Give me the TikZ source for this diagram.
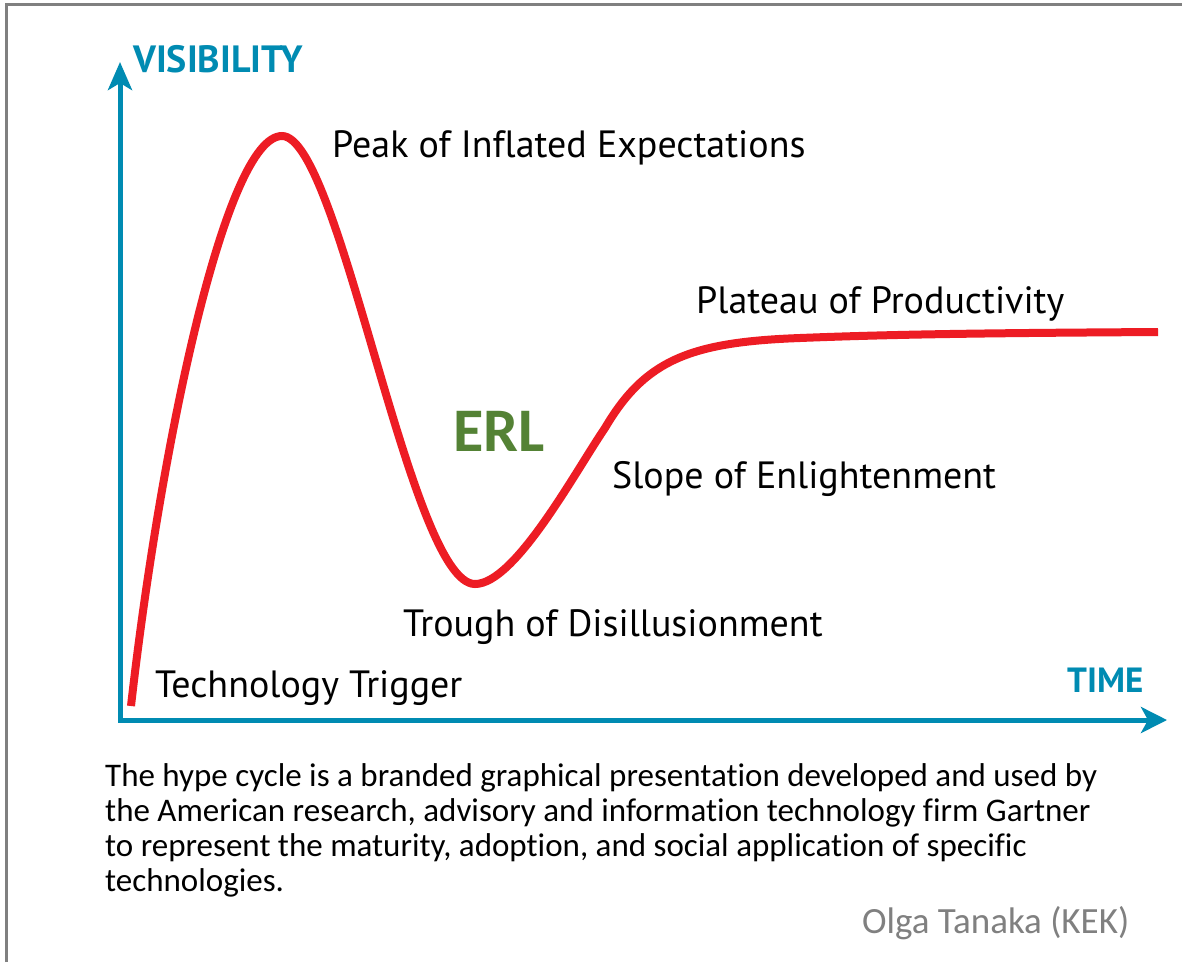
\documentclass[tikz,border=0pt]{standalone}
\usepackage{fontspec}
\setmainfont{Carlito}[Ligatures=NoCommon]
\newfontfamily\lblfont{PT Sans}[Ligatures=NoCommon]
\usetikzlibrary{arrows.meta}
\definecolor{axisteal}{RGB}{0,139,178}
\definecolor{hypered}{RGB}{237,28,36}
\definecolor{erlgreen}{RGB}{84,130,53}
\definecolor{framegrey}{RGB}{128,128,128}
\tikzset{
  curvelabel/.style={anchor=base west, inner sep=0pt, font=\lblfont\fontsize{38}{42}\selectfont, text=black},
  axislabel/.style={anchor=base west, inner sep=0pt, text=axisteal},
  captionline/.style={anchor=base west, inner sep=0pt, font=\fontsize{33}{35}\selectfont, text=black},
  axisline/.style={draw=axisteal, line width=5pt, line join=miter},
  hypecurve/.style={draw=hypered, line width=8pt},
}
\begin{document}
\begin{tikzpicture}[x=1pt,y=-1pt]
\useasboundingbox (0,0) rectangle (1182,962);
\fill[white] (0,0) rectangle (1182,962);
% frame (left and top edges)
\draw[framegrey, line width=3pt] (6.5,962) -- (6.5,4.5) -- (1182,4.5);
% axes
\coordinate (origin) at (120,720);
\coordinate (ytip) at (120,62);
\coordinate (xtip) at (1167,720);
\draw[axisline, {Stealth[length=28pt,width=24pt,inset=7pt]}-{Stealth[length=26pt,width=26pt,inset=7pt]}] (ytip) -- (origin) -- (xtip);
\node[axislabel, font=\lblfont\bfseries\fontsize{38}{42}\selectfont] (vis) at (133,72) {VISIBILITY};
\node[axislabel, font=\lblfont\bfseries\fontsize{35}{40}\selectfont] (time) at (1067,692) {TIME};
% hype curve
\draw[hypecurve] (131,706) .. controls (160,450) and (225,136) .. (282,136)
  .. controls (340,136) and (410,584) .. (475,584)
  .. controls (515,584) and (575,472) .. (605,428)
  .. controls (645,360) and (690,342) .. (800,338)
  .. controls (900,334) and (1000,333) .. (1158,332);
% labels
\node[curvelabel] (peak) at (332,157) {Peak of Inflated Expectations};
\node[curvelabel] (plateau) at (696,313) {Plateau of Productivity};
\node[curvelabel] (slope) at (612,488) {Slope of Enlightenment};
\node[curvelabel] (trough) at (403,636) {Trough of Disillusionment};
\node[curvelabel] (trigger) at (155,697) {Technology Trigger};
\node[anchor=base west, inner sep=0pt, font=\bfseries\fontsize{62}{70}\selectfont, text=erlgreen] (erl) at (453,451) {ERL};
% caption
\begin{scope}
\clip (0,0) rectangle (1182,896);
\node[captionline] (cap1) at (105,786) {The hype cycle is a branded graphical presentation developed and used by};
\node[captionline] (cap2) at (105,821) {the American research, advisory and information technology firm Gartner};
\node[captionline] (cap3) at (105,856) {to represent the maturity, adoption, and social application of specific};
\node[captionline] (cap4) at (105,891) {technologies.};
\end{scope}
\node[anchor=base west, inner sep=0pt, font=\fontsize{37}{40}\selectfont, text=framegrey] (author) at (862,933) {Olga Tanaka (KEK)};
\end{tikzpicture}
\end{document}
